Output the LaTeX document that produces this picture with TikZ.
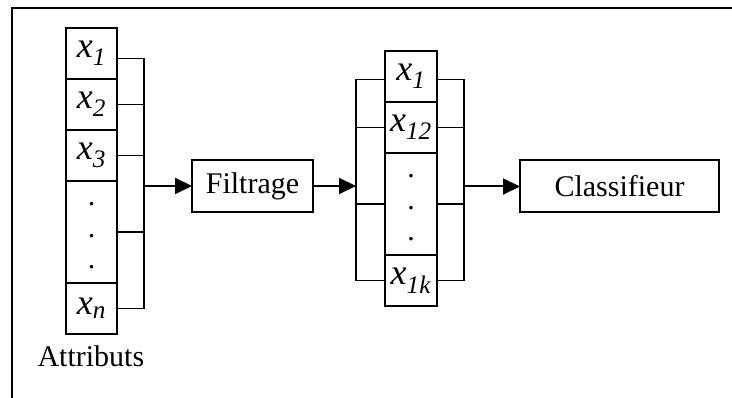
\documentclass[tikz,border=0pt]{standalone}
\usepackage{fontspec}
\setmainfont{Liberation Serif}
\usetikzlibrary{arrows.meta,positioning}

\newcommand{\xattr}[1]{\textit{x}\textsubscript{\textit{#1}}}

\begin{document}
\begin{tikzpicture}[
    x=1pt, y=-1pt,
    font=\fontsize{30}{36}\selectfont,
    cell/.style={rectangle, draw, line width=2pt, outer sep=0pt, inner sep=0pt, minimum width=51pt, minimum height=51pt, font=\fontsize{36}{40}\selectfont},
    tallcell/.style={cell, minimum height=102pt, align=center, font=\fontsize{30}{31.5}\selectfont},
    procbox/.style={rectangle, draw, line width=2pt, outer sep=0pt, minimum height=52pt},
    link/.style={line width=1.6pt},
    arrow/.style={-{Triangle[length=17pt, width=16pt]}, line width=2pt},
    frame/.style={line width=2pt}
]
\useasboundingbox (0,0) rectangle (732,398);
\draw[frame] (12,398) -- (12,8) -- (732,8);

% input attributes
\node[cell] (a1) at (91.5,53.5) {\xattr{1}};
\node[cell, below=0pt of a1] (a2) {\xattr{2}};
\node[cell, below=0pt of a2] (a3) {\xattr{3}};
\node[tallcell, below=0pt of a3] (a4) {\rule{0pt}{11pt}.\\.\\.};
\node[cell, below=0pt of a4] (an) {\xattr{n}};
\node[anchor=base west] (lbl) at (34,367) {Attributs};

\coordinate (ra) at (144,0);
\draw[link] ([yshift=-5pt]a1.east) -| (an.east -| ra) -- (an.east);
\foreach \c in {a2,a3,a4}
    \draw[link] (\c.east) -- (\c.east -| ra);

\node[procbox, minimum width=121pt] (filt) at (252.5,186) {Filtrage};
\draw[arrow] (filt.west -| ra) -- (filt.west);

% selected attributes
\node[cell, minimum width=52pt] (b1) at (411,76.5) {\xattr{1}};
\node[cell, minimum width=52pt, below=0pt of b1] (b2) {\xattr{12}};
\node[tallcell, minimum width=52pt, below=0pt of b2] (b3) {\rule{0pt}{11pt}.\\.\\.};
\node[cell, minimum width=52pt, below=0pt of b3] (bk) {\xattr{1k}};

\coordinate (lb) at (356,0);
\coordinate (rb) at (464,0);
\draw[link] ([yshift=-3pt]b1.west) -| (bk.west -| lb) -- (bk.west);
\draw[link] ([yshift=-3pt]b1.east) -| (bk.east -| rb) -- (bk.east);
\foreach \c in {b2,b3} {
    \draw[link] (\c.west) -- (\c.west -| lb);
    \draw[link] (\c.east) -- (\c.east -| rb);
}
\draw[arrow] (filt.east) -- (filt.east -| lb);

\node[procbox, minimum width=199pt] (clf) at (619.5,186.5) {Classifieur};
\draw[arrow] (clf.west -| rb) -- (clf.west);
\end{tikzpicture}
\end{document}
